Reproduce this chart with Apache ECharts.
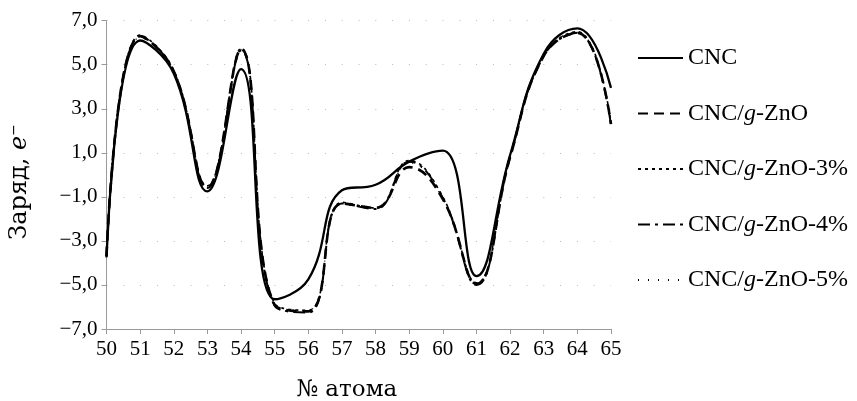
<!DOCTYPE html>
<html>
<head>
<meta charset="utf-8">
<script src="https://cdn.jsdelivr.net/npm/echarts@6/dist/echarts.min.js"></script>
<style>
html,body{margin:0;padding:0;background:#fff;}
#chart{width:857px;height:401px;}
</style>
</head>
<body>
<div id="chart"></div>
<script>
// ---- data ----
const atoms = [50, 51, 52, 53, 54, 55, 56, 57, 58, 59, 60, 61, 62, 63, 64, 65];
const seriesNames = ['CNC', 'CNC/g-ZnO', 'CNC/g-ZnO-3%', 'CNC/g-ZnO-4%', 'CNC/g-ZnO-5%'];
const cnc      = [-3.7, 6.1, 4.6, -0.75, 4.8, -5.65, -4.75, -0.7, -0.45, 0.6, 1.1, -4.6, 0.9, 5.5, 6.65, 3.95];
const znO      = [-3.7, 6.3, 4.7, -0.55, 5.7, -5.9, -6.2, -1.3, -1.5, 0.35, -1.1, -4.95, 0.8, 5.4, 6.45, 2.3];
const znO3     = [-3.7, 6.35, 4.75, -0.5, 5.75, -5.85, -6.15, -1.25, -1.5, 0.65, -1.0, -4.9, 0.85, 5.45, 6.5, 2.35];
const znO4     = [-3.75, 6.3, 4.7, -0.6, 5.65, -5.95, -6.25, -1.3, -1.55, 0.6, -1.05, -5.0, 0.8, 5.4, 6.45, 2.25];
const znO5     = [-3.7, 6.25, 4.7, -0.55, 5.7, -5.9, -6.15, -1.3, -1.5, 0.55, -1.1, -4.95, 0.85, 5.45, 6.5, 2.3];
const yLabelValues = [-7, -5, -3, -1, 1, 3, 5, 7];

const allValues = [cnc, znO, znO3, znO4, znO5];
const lineStyles = [
  {type: 'solid', width: 2.3},
  {type: [10, 6], width: 2.6},
  {type: [3, 4], width: 1.6},
  {type: [12, 5, 3, 5], width: 2},
  {type: [1, 9], width: 1.2}
];

const serifFont = '"Liberation Serif", "Times New Roman", serif';
const wideSerif = '"DejaVu Serif", serif';

const chart = echarts.init(document.getElementById('chart'));
chart.setOption({
  animation: false,
  backgroundColor: '#fff',
  grid: {left: 106.5, right: 246, top: 20.7, bottom: 72, outerBoundsMode: 'none', containLabel: false},
  legend: {
    orient: 'vertical',
    left: 632,
    top: 41,
    itemWidth: 45,
    itemHeight: 14,
    itemGap: 31.5,
    data: seriesNames,
    itemStyle: {opacity: 0},
    formatter: function (name) { return name.replace('/g-', '/{i|g}-'); },
    textStyle: {
      fontFamily: serifFont, fontSize: 24, color: '#000', lineHeight: 24,
      rich: {i: {fontStyle: 'italic', fontFamily: serifFont, fontSize: 24, color: '#000'}}
    }
  },
  xAxis: {
    type: 'value', min: 50, max: 65, interval: 1,
    name: '№ атома', nameLocation: 'middle', nameGap: 50,
    nameTextStyle: {fontFamily: wideSerif, fontSize: 23, color: '#000', padding: [0, 24, 0, 0]},
    axisLine: {onZero: false, lineStyle: {color: '#9a9a9a', width: 1}},
    axisTick: {show: true, inside: false, length: 5, lineStyle: {color: '#9a9a9a'}},
    axisLabel: {fontFamily: serifFont, fontSize: 21, color: '#000', margin: 10},
    splitLine: {show: false}
  },
  yAxis: {
    type: 'value', min: -7, max: 7, interval: 1,
    name: 'Заряд, {i|e}{s|−}', nameLocation: 'middle', nameGap: 75, nameRotate: 90,
    nameTextStyle: {
      fontFamily: wideSerif, fontSize: 24, color: '#000', padding: [0, 14, 0, 0],
      rich: {
        i: {fontStyle: 'italic', fontFamily: wideSerif, fontSize: 24, color: '#000'},
        s: {fontFamily: wideSerif, fontSize: 14, color: '#000', verticalAlign: 'top', padding: [0, 0, 10, 0]}
      }
    },
    axisLine: {show: true, onZero: false, lineStyle: {color: '#9a9a9a', width: 1}},
    axisTick: {show: true, length: 5, customValues: yLabelValues, lineStyle: {color: '#9a9a9a'}},
    axisLabel: {
      fontFamily: serifFont, fontSize: 21, color: '#000', margin: 9,
      customValues: yLabelValues,
      formatter: function (v) { return (v < 0 ? '−' : '') + Math.abs(v).toFixed(1).replace('.', ','); }
    },
    splitLine: {show: true, lineStyle: {color: '#b8b8b8', width: 1, type: [1, 15.8]}}
  },
  series: seriesNames.map(function (name, k) {
    return {
      name: name,
      type: 'line',
      smooth: 0.45,
      showSymbol: false,
      symbol: 'none',
      color: '#000',
      lineStyle: Object.assign({color: '#000'}, lineStyles[k]),
      data: atoms.map(function (a, i) { return [a, allValues[k][i]]; })
    };
  })
});
</script>
</body>
</html>
